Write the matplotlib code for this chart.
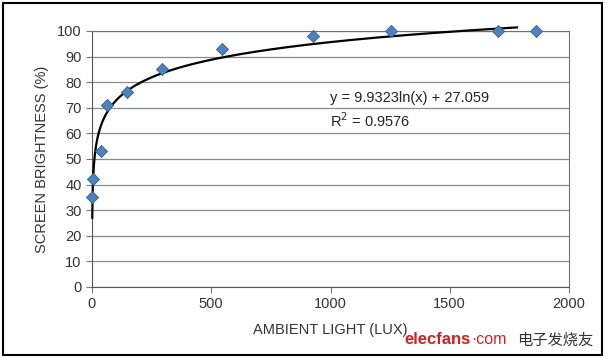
import numpy as np
import matplotlib.pyplot as plt
from matplotlib.patches import Rectangle

plt.rcParams['font.family'] = ['Liberation Sans', 'DejaVu Sans']

lux = [0, 5, 38, 63, 147, 293, 545, 927, 1254, 1702, 1862]
brightness = [35, 42, 53, 71, 76, 85, 93, 98, 100, 100, 100]
fit_a = 9.9323
fit_b = 27.059

fig = plt.figure(figsize=(6.08, 3.59), dpi=100)
ax = fig.add_axes([92 / 608, 1 - 287 / 359, 477 / 608, 256 / 359])

xs = np.linspace(1, 1782, 800)
ax.plot(xs, fit_a * np.log(xs) + fit_b, color='black', lw=1.6, zorder=3,
        clip_on=False)
ax.scatter(lux, brightness, marker='D', s=38, color='#4f81bd',
           edgecolor='#2f5f8f', linewidth=0.6, zorder=4, clip_on=False)

ax.set_xlim(0, 2000)
ax.set_ylim(0, 100)
ax.set_xticks(range(0, 2001, 500))
ax.set_yticks(range(0, 101, 10))
ax.yaxis.grid(True, color='#8c8c8c', lw=0.9)
ax.set_axisbelow(True)
for s in ax.spines.values():
    s.set_color('#707070')
ax.spines['left'].set_color('#555555')
ax.spines['bottom'].set_color('#555555')
ax.tick_params(axis='both', labelsize=10.5, colors='#333333', length=4,
               width=0.8, color='#777777')

ax.set_xlabel('AMBIENT LIGHT (LUX)', fontsize=10.5, color='#333333', labelpad=8)
ax.set_ylabel('SCREEN BRIGHTNESS (%)', fontsize=10.5, color='#333333', labelpad=6)

ax.text(1000, 74, 'y = 9.9323ln(x) + 27.059', fontsize=10.5, color='#222222',
        ha='left', va='center')
ax.text(1000, 65, r'R$^{2}$ = 0.9576', fontsize=10.5, color='#222222',
        ha='left', va='center')

fig.patches.append(Rectangle((3 / 608, 4 / 359), 599 / 608, 352 / 359,
                             transform=fig.transFigure, fill=False,
                             edgecolor='black', lw=1.5))

fig.text(404 / 608, 1 - 340 / 359, 'elecfans', color='#d42020', fontsize=12,
         fontweight='bold', va='center', ha='left')
fig.text(471 / 608, 1 - 339 / 359, '·com', color='#d42020', fontsize=11.5,
         va='center', ha='left')
fig.text(517 / 608, 1 - 340 / 359, '电子发烧友', color='#333333', fontsize=11,
         va='center', ha='left', family=['Noto Sans CJK SC', 'DejaVu Sans'])

fig.savefig('out.png', dpi=100)
